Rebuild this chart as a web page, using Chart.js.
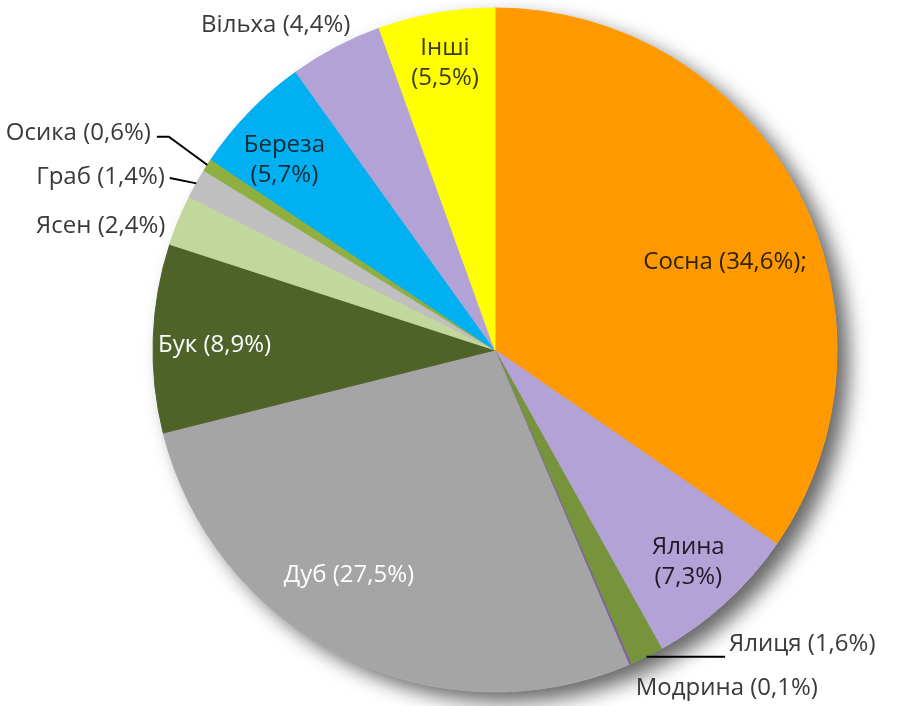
<!DOCTYPE html>
<html>
<head>
<meta charset="utf-8">
<script src="https://cdn.jsdelivr.net/npm/chart.js@4/dist/chart.umd.min.js"></script>
<style>
html, body { margin: 0; background: #fff; }
#wrap { width: 908px; height: 706px; }
</style>
</head>
<body>
<div id="wrap"><canvas id="speciesPie"></canvas></div>
<script>
const species = ["Сосна", "Ялина", "Ялиця", "Модрина", "Дуб", "Бук", "Ясен", "Граб", "Осика", "Береза", "Вільха", "Інші"];
const shares = [34.6, 7.3, 1.6, 0.1, 27.5, 8.9, 2.4, 1.4, 0.6, 5.7, 4.4, 5.5];
const sliceColors = ["#ff9900", "#b3a2d6", "#77933c", "#7f5fa8", "#a5a5a5", "#4f6228",
                     "#c3d69b", "#bfbfbf", "#8fb040", "#00b0f0", "#b3a2d6", "#ffff00"];
const twoLine = ["Ялина", "Береза", "Інші"];

// label text built from the data
const labelTexts = species.map((name, i) => {
    const pct = "(" + String(shares[i]).replace(".", ",") + "%)";
    const tail = name === "Сосна" ? ";" : "";
    return twoLine.includes(name) ? [name, pct] : [name + " " + pct + tail];
});

// where each label sits: radius factor, turn from slice middle (deg), align, colour, leader
const labelPlace = [
    {r: 0.72, turn: 6.8, align: "center", color: "#2e2200"},
    {r: 0.84, turn: 0, align: "center", color: "#1e1a28"},
    {r: 1.10, turn: -12.2, align: "left", color: "#3a3a3a", leader: "flat"},
    {r: 1.07, turn: 0.6, align: "left", color: "#3a3a3a"},
    {r: 0.785, turn: 6.5, align: "center", color: "#ffffff"},
    {r: 0.82, turn: -1, align: "center", color: "#ffffff"},
    {r: 1.03, turn: -1.7, align: "right", color: "#3a3a3a"},
    {r: 1.09, turn: -1.5, align: "right", color: "#3a3a3a", leader: "bend"},
    {r: 1.19, turn: -0.5, align: "right", color: "#3a3a3a", leader: "elbow"},
    {r: 0.83, turn: -2, align: "center", color: "#102a38"},
    {r: 1.146, turn: -6.3, align: "center", color: "#3a3a3a"},
    {r: 0.85, turn: 0, align: "center", color: "#3a3a1a"}
];

const pieShadow = {
    id: "pieShadow",
    beforeDatasetsDraw(chart) {
        const arc = chart.getDatasetMeta(0).data[0];
        const ctx = chart.ctx;
        ctx.save();
        ctx.shadowColor = "rgba(0,0,0,0.6)";
        ctx.shadowBlur = 20;
        ctx.shadowOffsetX = 12;
        ctx.shadowOffsetY = 10;
        ctx.fillStyle = "#ffffff";
        ctx.beginPath();
        ctx.arc(arc.x, arc.y, arc.outerRadius, 0, Math.PI * 2);
        ctx.fill();
        ctx.restore();
    }
};

const sliceLabels = {
    id: "sliceLabels",
    afterDatasetsDraw(chart) {
        const ctx = chart.ctx;
        ctx.save();
        ctx.font = "24px 'Open Sans'";
        ctx.textBaseline = "middle";
        chart.getDatasetMeta(0).data.forEach((arc, i) => {
            const p = labelPlace[i];
            const mid = (arc.startAngle + arc.endAngle) / 2;
            const a = mid + p.turn * Math.PI / 180;
            const x = arc.x + Math.cos(a) * arc.outerRadius * p.r;
            const y = arc.y + Math.sin(a) * arc.outerRadius * p.r;
            const lines = labelTexts[i];
            ctx.fillStyle = p.color;
            ctx.textAlign = p.align;
            lines.forEach((t, k) => {
                ctx.fillText(t, x, y + (k - (lines.length - 1) / 2) * 30);
            });
            if (p.leader) {
                const ex = arc.x + Math.cos(mid) * arc.outerRadius;
                const ey = arc.y + Math.sin(mid) * arc.outerRadius;
                ctx.strokeStyle = "#000000";
                ctx.lineWidth = 2;
                ctx.beginPath();
                if (p.leader === "flat") {
                    ctx.moveTo(ex, ey);
                    ctx.lineTo(x - 4, ey);
                } else if (p.leader === "bend") {
                    ctx.moveTo(ex, ey);
                    ctx.lineTo(x + 5, y + 1);
                } else {
                    ctx.moveTo(ex, ey);
                    ctx.lineTo(x + 18, y + 4);
                    ctx.lineTo(x + 6, y + 4);
                }
                ctx.stroke();
            }
        });
        ctx.restore();
    }
};

new Chart(document.getElementById("speciesPie"), {
    type: "pie",
    data: {
        labels: species,
        datasets: [{
            data: shares,
            backgroundColor: sliceColors,
            borderColor: sliceColors,
            borderWidth: 1
        }]
    },
    options: {
        responsive: true,
        maintainAspectRatio: false,
        animation: false,
        events: [],
        radius: 342,
        layout: {padding: {left: 100, right: 18, top: 0, bottom: 6}},
        plugins: {
            legend: {display: false},
            tooltip: {enabled: false}
        }
    },
    plugins: [pieShadow, sliceLabels]
});
</script>
</body>
</html>
